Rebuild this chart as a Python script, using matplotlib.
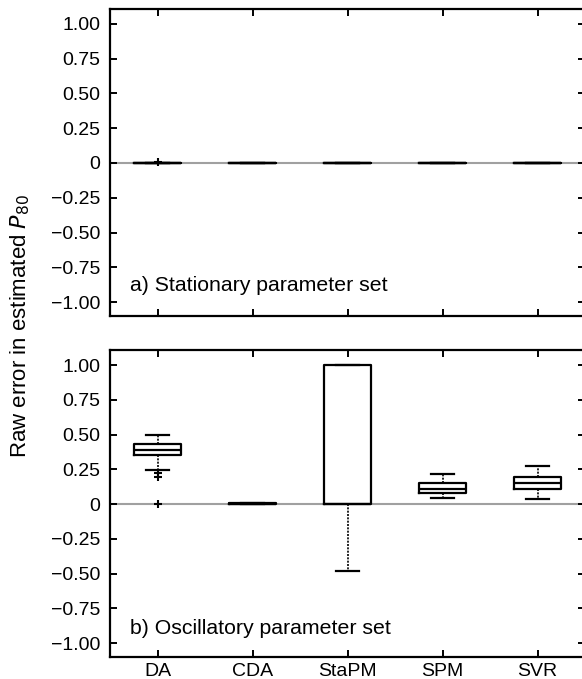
import matplotlib
matplotlib.use("Agg")
import matplotlib.pyplot as plt

plt.rcParams['font.family'] = ['Liberation Sans', 'DejaVu Sans']

methods = ["DA", "CDA", "StaPM", "SPM", "SVR"]
yticks = [1.0, 0.75, 0.5, 0.25, 0.0, -0.25, -0.5, -0.75, -1.0]
ytick_labels = ["1.00", "0.75", "0.50", "0.25", "0", "\u22120.25", "\u22120.50", "\u22120.75", "\u22121.00"]

# a) Stationary parameter set
stat_q1 = [0.0, 0.0, 0.0, 0.0, 0.0]
stat_med = [0.0, 0.0, 0.0, 0.0, 0.0]
stat_q3 = [0.0, 0.0, 0.0, 0.0, 0.0]
stat_whislo = [0.0, 0.0, 0.0, 0.0, 0.0]
stat_whishi = [0.0, 0.0, 0.0, 0.0, 0.0]
stat_fliers = [[0.005], [], [], [], []]

# b) Oscillatory parameter set
osc_q1 = [0.35, 0.0, 0.0, 0.077, 0.108]
osc_med = [0.39, 0.002, 0.0, 0.11, 0.149]
osc_q3 = [0.43, 0.005, 1.0, 0.149, 0.192]
osc_whislo = [0.245, 0.0, -0.48, 0.045, 0.034]
osc_whishi = [0.50, 0.005, 1.0, 0.216, 0.271]
osc_fliers = [[0.225, 0.195, 0.0], [], [], [], []]

panel_titles = ["a) Stationary parameter set", "b) Oscillatory parameter set"]

W, H = 582, 679
fig = plt.figure(figsize=(W / 100, H / 100), dpi=100)

left = 110 / W
width = (585 - 110) / W
ax_a = fig.add_axes([left, 1 - 316 / H, width, (316 - 9.3) / H])
ax_b = fig.add_axes([left, 1 - 657 / H, width, (657 - 350) / H])


def make_stats(q1, med, q3, lo, hi, fl):
    out = []
    for i in range(len(q1)):
        out.append(dict(q1=q1[i], med=med[i], q3=q3[i], whislo=lo[i], whishi=hi[i],
                        fliers=fl[i], label=methods[i]))
    return out


datasets = [
    make_stats(stat_q1, stat_med, stat_q3, stat_whislo, stat_whishi, stat_fliers),
    make_stats(osc_q1, osc_med, osc_q3, osc_whislo, osc_whishi, osc_fliers),
]

for ax, stats, title, ylim, ty in zip([ax_a, ax_b], datasets, panel_titles,
                                      [(-1.10, 1.105), (-1.10, 1.108)],
                                      [-0.878, -0.892]):
    ax.axhline(0, color='#a0a0a0', lw=1.5, zorder=0)
    ax.bxp(stats, positions=range(1, len(methods) + 1), widths=0.5, capwidths=0.25,
           boxprops=dict(color='black', lw=1.6),
           whiskerprops=dict(color='black', lw=1.2, linestyle=(0, (1.2, 0.8))),
           capprops=dict(color='black', lw=1.6),
           medianprops=dict(color='black', lw=1.6),
           flierprops=dict(marker='+', markeredgecolor='black', markersize=6,
                           markeredgewidth=1.5, linestyle='none'),
           manage_ticks=False)
    ax.set_xlim(0.5, 5.5)
    ax.set_ylim(*ylim)
    ax.set_yticks(yticks)
    ax.set_yticklabels(ytick_labels)
    ax.set_xticks(range(1, len(methods) + 1))
    ax.tick_params(direction='in', length=5, width=1.4, top=True, right=True,
                   labelsize=14)
    ax.tick_params(axis='y', pad=7)
    ax.tick_params(axis='x', pad=4)
    for s in ax.spines.values():
        s.set_linewidth(1.6)
    ax.text(0.71, ty, title, fontsize=15.3, va='center', ha='left')

ax_a.set_xticklabels([])
ax_b.set_xticklabels(methods)

fig.text(20 / W, 1 - 326 / H, r"Raw error in estimated $P_{80}$", rotation=90,
         ha='center', va='center', fontsize=16)

fig.savefig("out.png", dpi=100)
